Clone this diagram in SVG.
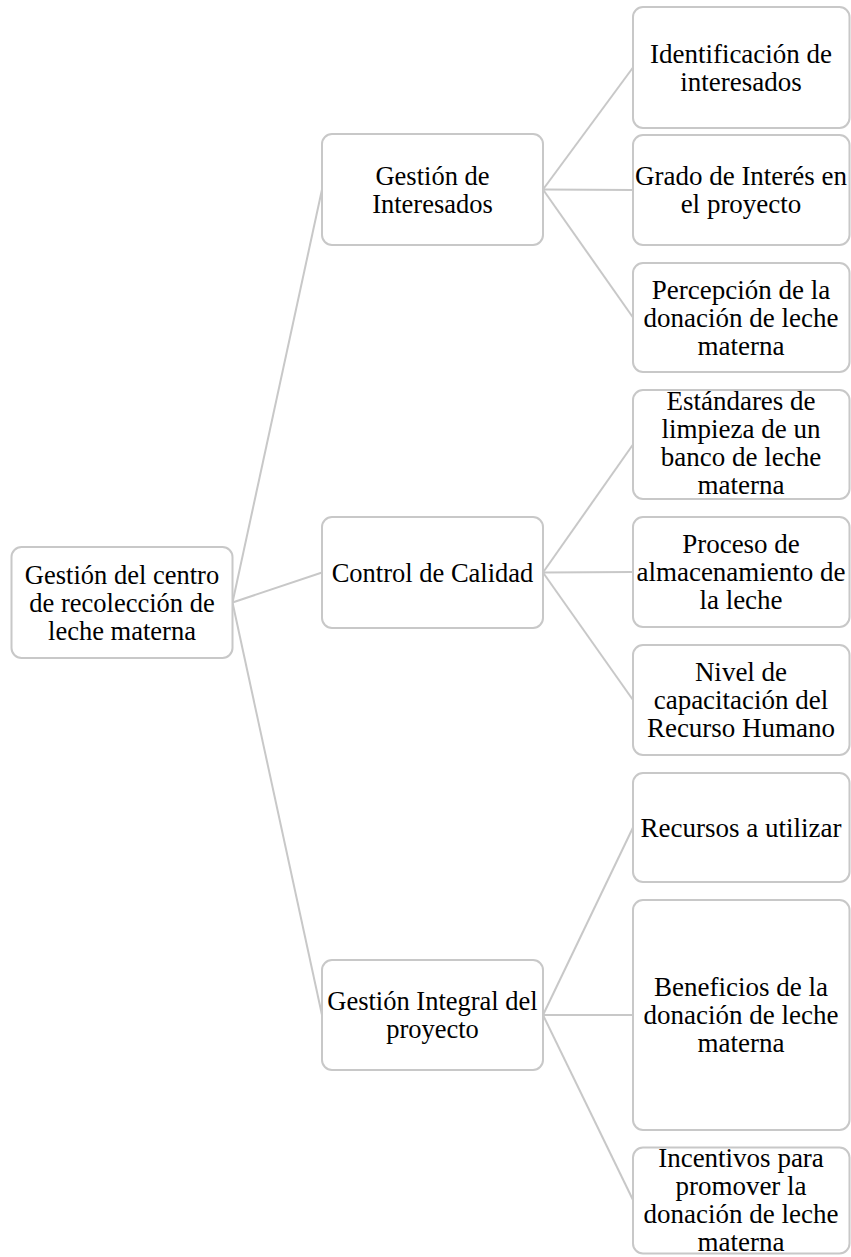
<svg xmlns="http://www.w3.org/2000/svg" width="851" height="1257" viewBox="0 0 851 1257">
<style>
.box{fill:#ffffff;stroke:#c8c8c8;stroke-width:2}
.t{font-family:"Liberation Serif","Times New Roman",serif;font-size:26.5px;fill:#000000;text-anchor:middle}
.r{font-size:27px}
.c{stroke:#c8c8c8;stroke-width:2;fill:none}
</style>
<rect width="851" height="1257" fill="#ffffff"/>
<g id="connectors">
<line class="c" x1="232.5" y1="602.5" x2="322" y2="189.5"/>
<line class="c" x1="232.5" y1="602.5" x2="322" y2="572.5"/>
<line class="c" x1="232.5" y1="602.5" x2="322" y2="1015"/>
<line class="c" x1="543" y1="189.5" x2="633" y2="67.5"/>
<line class="c" x1="543" y1="189.5" x2="633" y2="190"/>
<line class="c" x1="543" y1="189.5" x2="633" y2="317.5"/>
<line class="c" x1="543" y1="572.5" x2="633" y2="444.5"/>
<line class="c" x1="543" y1="572.5" x2="633" y2="572"/>
<line class="c" x1="543" y1="572.5" x2="633" y2="700"/>
<line class="c" x1="543" y1="1015" x2="633" y2="827.5"/>
<line class="c" x1="543" y1="1015" x2="633" y2="1015"/>
<line class="c" x1="543" y1="1015" x2="633" y2="1200"/>
</g>
<g id="root">
<rect class="box" x="11.5" y="547" width="221" height="111" rx="10"/>
<text class="t" x="122" y="584">Gestión del centro</text>
<text class="t" x="122" y="612">de recolección de</text>
<text class="t" x="122" y="640">leche materna</text>
</g>
<g id="interesados">
<rect class="box" x="322" y="134" width="221" height="111" rx="10"/>
<text class="t" x="432.5" y="185">Gestión de</text>
<text class="t" x="432.5" y="213">Interesados</text>
</g>
<g id="calidad">
<rect class="box" x="322" y="517" width="221" height="111" rx="10"/>
<text class="t" x="432.5" y="582">Control de Calidad</text>
</g>
<g id="integral">
<rect class="box" x="322" y="960" width="221" height="110" rx="10"/>
<text class="t" x="432.5" y="1010">Gestión Integral del</text>
<text class="t" x="432.5" y="1038">proyecto</text>
</g>
<g id="identificacion">
<rect class="box" x="633" y="7" width="216.5" height="121" rx="10"/>
<text class="t r" x="741" y="63">Identificación de</text>
<text class="t r" x="741" y="91">interesados</text>
</g>
<g id="grado">
<rect class="box" x="633" y="135" width="216.5" height="110" rx="10"/>
<text class="t r" x="741" y="185">Grado de Interés en</text>
<text class="t r" x="741" y="213">el proyecto</text>
</g>
<g id="percepcion">
<rect class="box" x="633" y="263" width="216.5" height="109" rx="10"/>
<text class="t r" x="741" y="299">Percepción de la</text>
<text class="t r" x="741" y="327">donación de leche</text>
<text class="t r" x="741" y="355">materna</text>
</g>
<g id="estandares">
<rect class="box" x="633" y="390" width="216.5" height="109" rx="10"/>
<text class="t r" x="741" y="410">Estándares de</text>
<text class="t r" x="741" y="438">limpieza de un</text>
<text class="t r" x="741" y="466">banco de leche</text>
<text class="t r" x="741" y="494">materna</text>
</g>
<g id="proceso">
<rect class="box" x="633" y="517" width="216.5" height="110" rx="10"/>
<text class="t r" x="741" y="553">Proceso de</text>
<text class="t r" x="741" y="581">almacenamiento de</text>
<text class="t r" x="741" y="609">la leche</text>
</g>
<g id="nivel">
<rect class="box" x="633" y="645" width="216.5" height="110" rx="10"/>
<text class="t r" x="741" y="681">Nivel de</text>
<text class="t r" x="741" y="709">capacitación del</text>
<text class="t r" x="741" y="737">Recurso Humano</text>
</g>
<g id="recursos">
<rect class="box" x="633" y="773" width="216.5" height="109" rx="10"/>
<text class="t r" x="741" y="837">Recursos a utilizar</text>
</g>
<g id="beneficios">
<rect class="box" x="633" y="900" width="216.5" height="230" rx="10"/>
<text class="t r" x="741" y="996">Beneficios de la</text>
<text class="t r" x="741" y="1024">donación de leche</text>
<text class="t r" x="741" y="1052">materna</text>
</g>
<g id="incentivos">
<rect class="box" x="633" y="1147.5" width="216.5" height="106" rx="10"/>
<text class="t r" x="741" y="1167">Incentivos para</text>
<text class="t r" x="741" y="1195">promover la</text>
<text class="t r" x="741" y="1223">donación de leche</text>
<text class="t r" x="741" y="1251">materna</text>
</g>
</svg>
